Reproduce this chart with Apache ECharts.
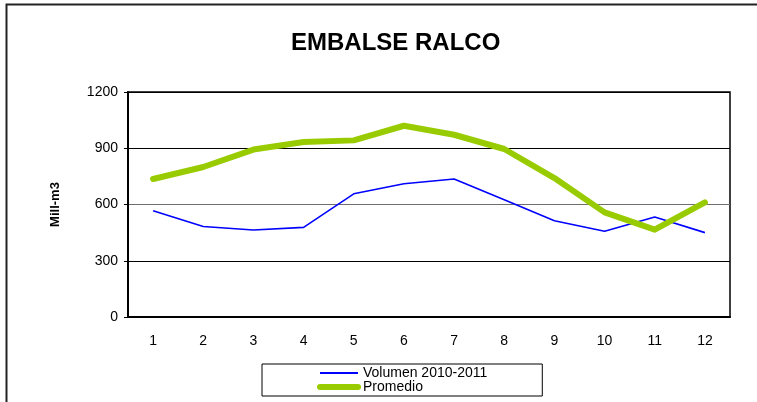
<!DOCTYPE html>
<html>
<head>
<meta charset="utf-8">
<script src="https://cdn.jsdelivr.net/npm/echarts@6/dist/echarts.min.js"></script>
<style>
  html, body { margin: 0; padding: 0; background: #fff; }
  #chart { width: 757px; height: 402px; }
</style>
</head>
<body>
<div id="chart"></div>
<script>
// meses
var meses = ['1', '2', '3', '4', '5', '6', '7', '8', '9', '10', '11', '12'];
// Volumen 2010-2011 (Mill-m3)
var volumen = [567, 483, 464, 478, 657, 711, 736, 625, 513, 457, 533, 450];
// Promedio
var promedio = [736, 800, 893, 933, 942, 1020, 972, 896, 741, 558, 466, 611];
var yTicks = [0, 300, 600, 900, 1200];

var chart = echarts.init(document.getElementById('chart'), null, { renderer: 'canvas' });

var font = "Arial, 'Liberation Sans', sans-serif";

var option = {
    backgroundColor: '#fff',
    animation: false,
    title: {
        text: 'EMBALSE RALCO',
        left: 286,
        top: 26,
        textStyle: { fontFamily: font, fontSize: 24, fontWeight: 'bold', color: '#000' }
    },
    // marco exterior
    graphic: [{
        type: 'polyline',
        shape: { points: [[6.5, 402], [6.5, 4.5], [757, 4.5]] },
        style: { stroke: '#222', lineWidth: 2, fill: null },
        silent: true
    }],
    legend: {
        orient: 'vertical',
        left: 262,
        top: 364,
        itemWidth: 38,
        itemHeight: 13,
        itemGap: 0,
        padding: [2, 55, 2, 55],
        borderColor: '#000',
        borderWidth: 1,
        itemStyle: { opacity: 0 },
        textStyle: { fontFamily: font, fontSize: 14, color: '#000', lineHeight: 13 },
        data: [
            { name: 'Volumen 2010-2011', lineStyle: { width: 2 } },
            { name: 'Promedio', lineStyle: { width: 6, cap: 'round' } }
        ]
    },
    grid: {
        left: 128,
        right: 27,
        top: 92,
        bottom: 85,
        show: true,
        borderColor: '#000',
        borderWidth: 1.5,
        containLabel: false
    },
    xAxis: {
        type: 'category',
        data: meses,
        boundaryGap: true,
        axisLine: { lineStyle: { color: '#000', width: 2 } },
        axisTick: { inside: true, length: 5, lineStyle: { color: '#000', width: 1.5 } },
        axisLabel: { fontFamily: font, fontSize: 14, color: '#000', margin: 17 }
    },
    yAxis: {
        type: 'value',
        min: yTicks[0],
        max: yTicks[yTicks.length - 1],
        interval: 300,
        name: 'Mill-m3',
        nameLocation: 'middle',
        nameGap: 66,
        nameTextStyle: { fontFamily: font, fontSize: 13, fontWeight: 'bold', color: '#000' },
        axisLine: { show: true, lineStyle: { color: '#000', width: 2 } },
        axisTick: { show: true, length: 4, lineStyle: { color: '#000' } },
        axisLabel: {
            fontFamily: font, fontSize: 14, color: '#000', margin: 10,
            formatter: function (v) { return String(v); }
        },
        splitLine: { lineStyle: { color: ['#000', '#000', '#6e6e6e', '#000', '#000'], width: 1.2 } }
    },
    series: [{
        name: 'Volumen 2010-2011',
        type: 'line',
        data: volumen,
        showSymbol: false,
        symbol: 'none',
        color: '#0000ff',
        lineStyle: { color: '#0000ff', width: 1.6 },
        z: 3
    }, {
        name: 'Promedio',
        type: 'line',
        data: promedio,
        showSymbol: false,
        symbol: 'none',
        color: '#99cc00',
        lineStyle: { color: '#99cc00', width: 6, cap: 'round', join: 'round' },
        z: 4
    }]
};
chart.setOption(option);
</script>
</body>
</html>
